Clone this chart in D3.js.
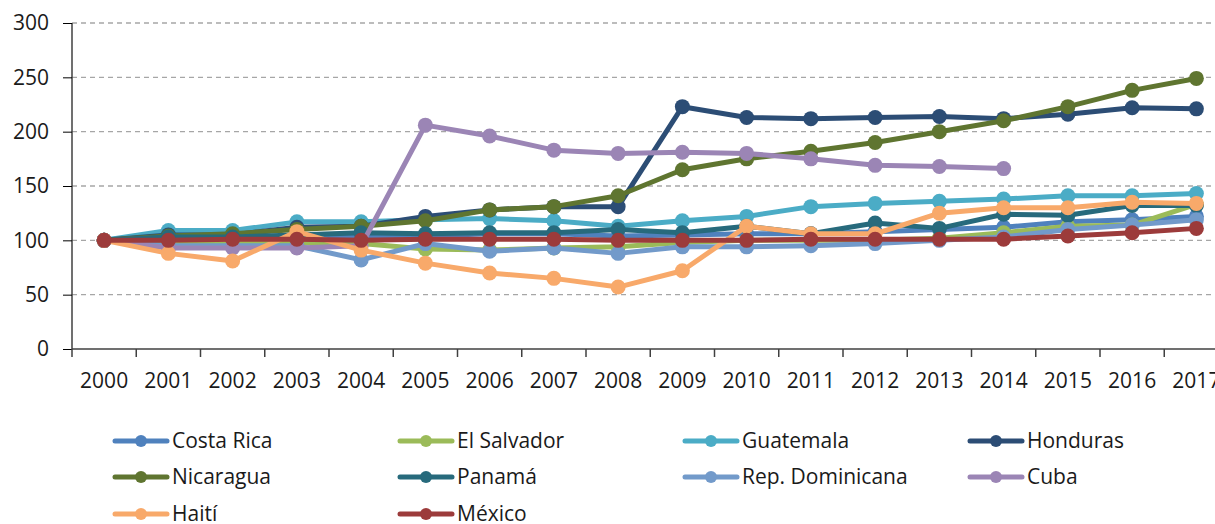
<!DOCTYPE html>
<html>
<head>
<meta charset="utf-8">
<script src="https://cdn.jsdelivr.net/npm/d3@7"></script>
<style>
  body { margin: 0; background: #fff; }
  text { font-family: "Open Sans", "Noto Sans", sans-serif; fill: #1a1a1a; }
</style>
</head>
<body>
<div id="chart"></div>
<script>
// data (index, 2000 = 100)
var years = ["2000","2001","2002","2003","2004","2005","2006","2007","2008","2009",
             "2010","2011","2012","2013","2014","2015","2016","2017"];
var yTicks = [0, 50, 100, 150, 200, 250, 300];

var costaRica   = [100,106,106,102,103,104,106,106,104,105,106,106,108,110,112,117,119,122];
var elSalvador  = [100, 96, 97, 98, 97, 92, 91, 93, 94, 98,100,100,100,102,107,113,114,133];
var guatemala   = [100,109,109,117,117,119,120,118,113,118,122,131,134,136,138,141,141,143];
var honduras    = [100,105,105,112,113,122,128,131,131,223,213,212,213,214,212,216,222,221];
var nicaragua   = [100,104,106,110,113,118,128,131,141,165,175,182,190,200,210,223,238,249];
var panama      = [100,103,103,105,107,106,107,107,110,107,113,106,116,111,124,123,132,132];
var repDom      = [100, 95, 95, 95, 82, 97, 90, 93, 88, 94, 94, 95, 97,100,103,110,114,119];
var cuba        = [100, 93, 93, 93, 95,206,196,183,180,181,180,175,169,168,166];
var haiti       = [100, 88, 81,108, 91, 79, 70, 65, 57, 72,113,106,106,125,130,130,135,134];
var mexico      = [100,100,101,101,100,101,101,101,100,100,100,101,101,101,101,104,107,111];

var names  = ["Costa Rica","El Salvador","Guatemala","Honduras","Nicaragua",
              "Panamá","Rep. Dominicana","Cuba","Haití","México"];
var values = [costaRica, elSalvador, guatemala, honduras, nicaragua,
              panama, repDom, cuba, haiti, mexico];
var colors = ["#4F81BD","#9BBB59","#4BACC6","#2C4D75","#5F7530",
              "#276A7C","#729ACA","#9B85B5","#F8A96A","#9C3B3B"];

var width = 1215, height = 524;
var plotLeft = 72, plotTop = 23, plotBottom = 349;

var svg = d3.select("#chart").append("svg")
    .attr("width", width)
    .attr("height", height);

var x = d3.scaleBand().domain(years).range([plotLeft, plotLeft + 18 * 64.25]);
var y = d3.scaleLinear().domain([0, 300]).range([plotBottom, plotTop]);

// gridlines
svg.append("g").selectAll("line")
    .data(yTicks.slice(1))
    .enter().append("line")
    .attr("x1", plotLeft).attr("x2", width)
    .attr("y1", function (d) { return y(d); })
    .attr("y2", function (d) { return y(d); })
    .attr("stroke", "#a6a6a6")
    .attr("stroke-width", 1.3)
    .attr("stroke-dasharray", "5,4");

// y axis
var yAxis = svg.append("g")
    .attr("transform", "translate(" + plotLeft + ",0)")
    .call(d3.axisLeft(y).tickValues(yTicks).tickSize(9).tickPadding(14));
yAxis.selectAll("text").style("font-size", "21px");

// x axis, ticks between categories
var xAxis = svg.append("g")
    .attr("transform", "translate(0," + plotBottom + ")")
    .call(d3.axisBottom(x).tickSize(0));
xAxis.selectAll(".tick text")
    .attr("y", 39).attr("dy", null)
    .style("font-size", "21px");
xAxis.selectAll(".tick line").remove();
xAxis.append("g").selectAll("line")
    .data(years.concat(["end"]))
    .enter().append("line")
    .attr("x1", function (d, i) { return plotLeft + i * x.step(); })
    .attr("x2", function (d, i) { return plotLeft + i * x.step(); })
    .attr("y1", 0).attr("y2", 8)
    .attr("stroke", "#404040").attr("stroke-width", 1.5);

svg.selectAll(".domain").attr("stroke", "#404040").attr("stroke-width", 1.5);
xAxis.select(".domain").attr("d", "M" + plotLeft + ",0H" + width);
yAxis.select(".domain").attr("d", "M0," + plotTop + "V" + plotBottom);

// series
var line = d3.line()
    .x(function (d, i) { return x(years[i]) + x.bandwidth() / 2; })
    .y(function (d) { return y(d); });

values.forEach(function (vals, k) {
    var g = svg.append("g");
    g.append("path")
        .attr("d", line(vals))
        .attr("fill", "none")
        .attr("stroke", colors[k])
        .attr("stroke-width", 5)
        .attr("stroke-linejoin", "round");
    g.selectAll("circle")
        .data(vals)
        .enter().append("circle")
        .attr("cx", function (d, i) { return x(years[i]) + x.bandwidth() / 2; })
        .attr("cy", function (d) { return y(d); })
        .attr("r", 7.5)
        .attr("fill", colors[k]);
});

// legend
var colX = [113, 398, 683, 968];
var rowY = [441, 477, 514];
var legend = svg.append("g").selectAll("g")
    .data(names)
    .enter().append("g")
    .attr("transform", function (d, i) {
        return "translate(" + colX[i % 4] + "," + rowY[Math.floor(i / 4)] + ")";
    });
legend.append("line")
    .attr("x1", 2).attr("x2", 54)
    .attr("stroke", function (d, i) { return colors[i]; })
    .attr("stroke-width", 5)
    .attr("stroke-linecap", "round");
legend.append("circle")
    .attr("cx", 28).attr("r", 6)
    .attr("fill", function (d, i) { return colors[i]; });
legend.append("text")
    .attr("x", 59).attr("dy", "0.35em")
    .style("font-size", "21px")
    .text(function (d) { return d; });
</script>
</body>
</html>
